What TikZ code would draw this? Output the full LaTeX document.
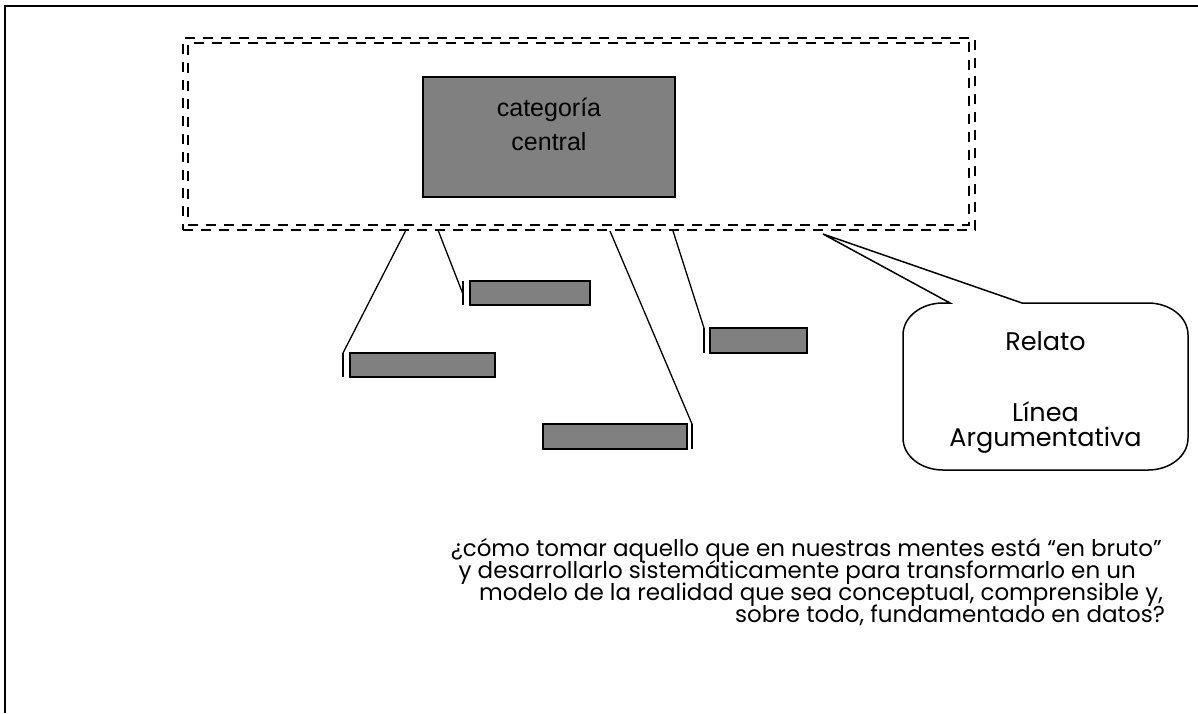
\documentclass[tikz,border=0pt]{standalone}
\usepackage{fontspec}
\setmainfont{Poppins}
\newfontfamily\arialf{Liberation Sans}
\usetikzlibrary{calc}
\tikzset{
  dashbox/.style={draw, line width=2.2pt, dash pattern=on 10pt off 8pt, inner sep=0pt, outer sep=0pt},
  graybox/.style={draw, fill=boxgray, line width=1.5pt, inner sep=0pt, outer sep=0pt},
  conn/.style={line width=1.3pt},
  bar/.style={line width=1.5pt},
  ctxt/.style={font=\arialf\fontsize{25}{30}\selectfont, anchor=base, inner sep=0pt},
  qtext/.style={font=\fontsize{23}{22}\selectfont, anchor=base east, inner sep=0pt},
  btext/.style={font=\fontsize{25.5}{28}\selectfont, anchor=base, inner sep=0pt}
}
\definecolor{boxgray}{HTML}{808080}
\begin{document}
\begin{tikzpicture}[x=1pt,y=-1pt]
\useasboundingbox (0,0) rectangle (1198,713);
% page frame (top and left)
\draw[line width=2pt] (5,713) -- (5,6) -- (1198,6);
% double dashed frame
\node[dashbox, minimum width=792pt, minimum height=192pt] (outer) at (579,134) {};
\node[dashbox, minimum width=781pt, minimum height=182pt] (inner) at (578.5,134) {};
% central category
\node[graybox, minimum width=252pt, minimum height=120pt] (central) at (549,137) {};
\node[ctxt] (ctext1) at (549,116) {categoría};
\node[ctxt] (ctext2) at (549,150) {central};
% sub-category boxes
\node[graybox, minimum width=120pt, minimum height=24pt] (A) at (530,293) {};
\node[graybox, minimum width=145pt, minimum height=24pt] (B) at (422.5,365) {};
\node[graybox, minimum width=144pt, minimum height=25pt] (C) at (615,436.5) {};
\node[graybox, minimum width=97pt, minimum height=25pt] (D) at (758.5,340.5) {};
% callout bars
\coordinate (Atop) at ($(A.north west)+(-7,0)$);
\coordinate (Abot) at ($(A.south west)+(-7,0)$);
\coordinate (Btop) at ($(B.north west)+(-7,0)$);
\coordinate (Bbot) at ($(B.south west)+(-7,0)$);
\coordinate (Ctop) at ($(C.north east)+(5,0)$);
\coordinate (Cbot) at ($(C.south east)+(5,0)$);
\coordinate (Dtop) at ($(D.north west)+(-6,0)$);
\coordinate (Dbot) at ($(D.south west)+(-6,0)$);
\draw[bar] (Atop) -- (Abot);
\draw[bar] (Btop) -- (Bbot);
\draw[bar] (Ctop) -- (Cbot);
\draw[bar] (Dtop) -- (Dbot);
\coordinate (Amid) at ($(Atop)!0.55!(Abot)$);
% connectors from the frame
\draw[conn] ($(outer.south west)+(223,0)$) -- (Btop);
\draw[conn] ($(outer.south west)+(255,0)$) -- (Amid);
\draw[conn] ($(outer.south west)+(427,1)$) -- (Ctop);
\draw[conn] ($(outer.south west)+(490,1)$) -- (Dtop);
% speech bubble
\coordinate (tip) at (823,234);
\draw[line width=1.5pt, fill=white] (tip) -- (1022,303) -- (1148,303)
  .. controls (1170,303) and (1188,317) .. (1188,335) -- (1188,438)
  .. controls (1188,456) and (1170,470) .. (1148,470) -- (943,470)
  .. controls (921,470) and (903,456) .. (903,438) -- (903,335)
  .. controls (903,317) and (921,303) .. (943,303) -- (950,303) -- cycle;
\node[btext] (relato) at (1045.5,350) {Relato};
\node[btext] (linea) at (1045.5,421) {Línea};
\node[btext] (argum) at (1045.5,446) {Argumentativa};
% question
\node[qtext] (q1) at (1162,556) {¿cómo tomar aquello que en nuestras mentes está “en bruto”};
\node[qtext] (q2) at (1136,578) {y desarrollarlo sistemáticamente para transformarlo en un};
\node[qtext] (q3) at (1163,600) {modelo de la realidad que sea conceptual, comprensible y,};
\node[qtext] (q4) at (1165,622) {sobre todo, fundamentado en datos?};
\end{tikzpicture}
\end{document}
